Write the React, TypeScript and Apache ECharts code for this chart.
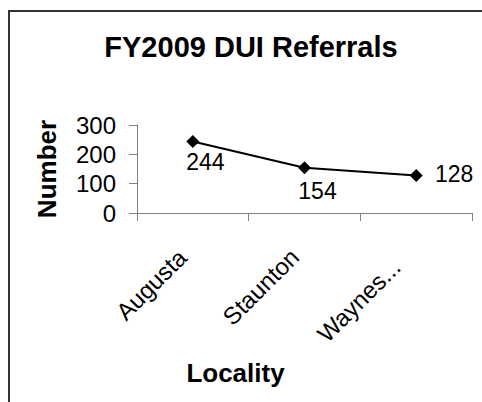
import React, { useEffect, useRef } from "react";
import * as echarts from "echarts";

const titleText = "FY2009 DUI Referrals";
const yAxisTitle = "Number";
const xAxisTitle = "Locality";
const categories = ["Augusta", "Staunton", "Waynes..."];
const referrals = [244, 154, 128];
const yTicks = { min: 0, max: 300, interval: 100 };

const FONT = "'Liberation Sans', Arial, sans-serif";

export default function App() {
  const ref = useRef<HTMLDivElement>(null);
  useEffect(() => {
    document.body.style.margin = "0";
    if (!ref.current) return;
    const chart = echarts.init(ref.current, null, { renderer: "svg" });
    const labelOffsets = [
      [12.5, 20.5],
      [13, 23.5],
      [38, -1.5],
    ];
    const catPadding = [
      [3, 14.8, 11.3, 0],
      [0, 13.8, 15.3, 0],
      [0, 28.3, 39.3, 0],
    ];
    chart.setOption({
      animation: false,
      backgroundColor: "#ffffff",
      grid: { left: 137, right: 10, top: 125, bottom: 189, containLabel: false },
      xAxis: {
        type: "category",
        data: categories.map((c, i) => ({ value: c, textStyle: { padding: catPadding[i] } })),
        boundaryGap: true,
        axisLine: { show: true, lineStyle: { color: "#808080", width: 1 } },
        axisTick: { show: true, length: 8, lineStyle: { color: "#808080" } },
        axisLabel: {
          rotate: 45,
          margin: 30,
          fontFamily: FONT,
          fontSize: 24,
          color: "#000",
          interval: 0,
        },
        splitLine: { show: false },
      },
      yAxis: {
        type: "value",
        min: yTicks.min,
        max: yTicks.max,
        interval: yTicks.interval,
        name: yAxisTitle,
        nameLocation: "middle",
        nameRotate: 90,
        nameGap: 77,
        nameTextStyle: { fontFamily: FONT, fontSize: 26, fontWeight: "bold", color: "#000" },
        axisLine: { show: true, lineStyle: { color: "#808080", width: 1 } },
        axisTick: { show: true, length: 8, lineStyle: { color: "#808080" } },
        axisLabel: { margin: 21, fontFamily: FONT, fontSize: 24, color: "#000" },
        splitLine: { show: false },
      },
      series: [
        {
          type: "line",
          data: referrals.map((v, i) => ({
            value: v,
            label: {
              show: true,
              position: "inside",
              offset: labelOffsets[i],
              align: "center",
              verticalAlign: "middle",
            },
          })),
          symbol: "diamond",
          symbolSize: 13,
          itemStyle: { color: "#000" },
          lineStyle: { color: "#000", width: 2 },
          label: { fontFamily: FONT, fontSize: 23, color: "#000" },
        },
      ],
      graphic: [
        {
          type: "rect",
          shape: { x: 9, y: 11, width: 500, height: 420 },
          style: { fill: "none", stroke: "#333333", lineWidth: 2 },
          silent: true,
        },
        {
          type: "text",
          x: 251,
          y: 47,
          style: {
            text: titleText,
            fontFamily: FONT,
            fontSize: 29,
            fontWeight: "bold",
            fill: "#000",
            textAlign: "center",
            textVerticalAlign: "middle",
          },
        },
        {
          type: "text",
          x: 235.5,
          y: 373,
          style: {
            text: xAxisTitle,
            fontFamily: FONT,
            fontSize: 26,
            fontWeight: "bold",
            fill: "#000",
            textAlign: "center",
            textVerticalAlign: "middle",
          },
        },
      ],
    });
    return () => chart.dispose();
  }, []);
  return <div ref={ref} style={{ width: 482, height: 402 }} />;
}
